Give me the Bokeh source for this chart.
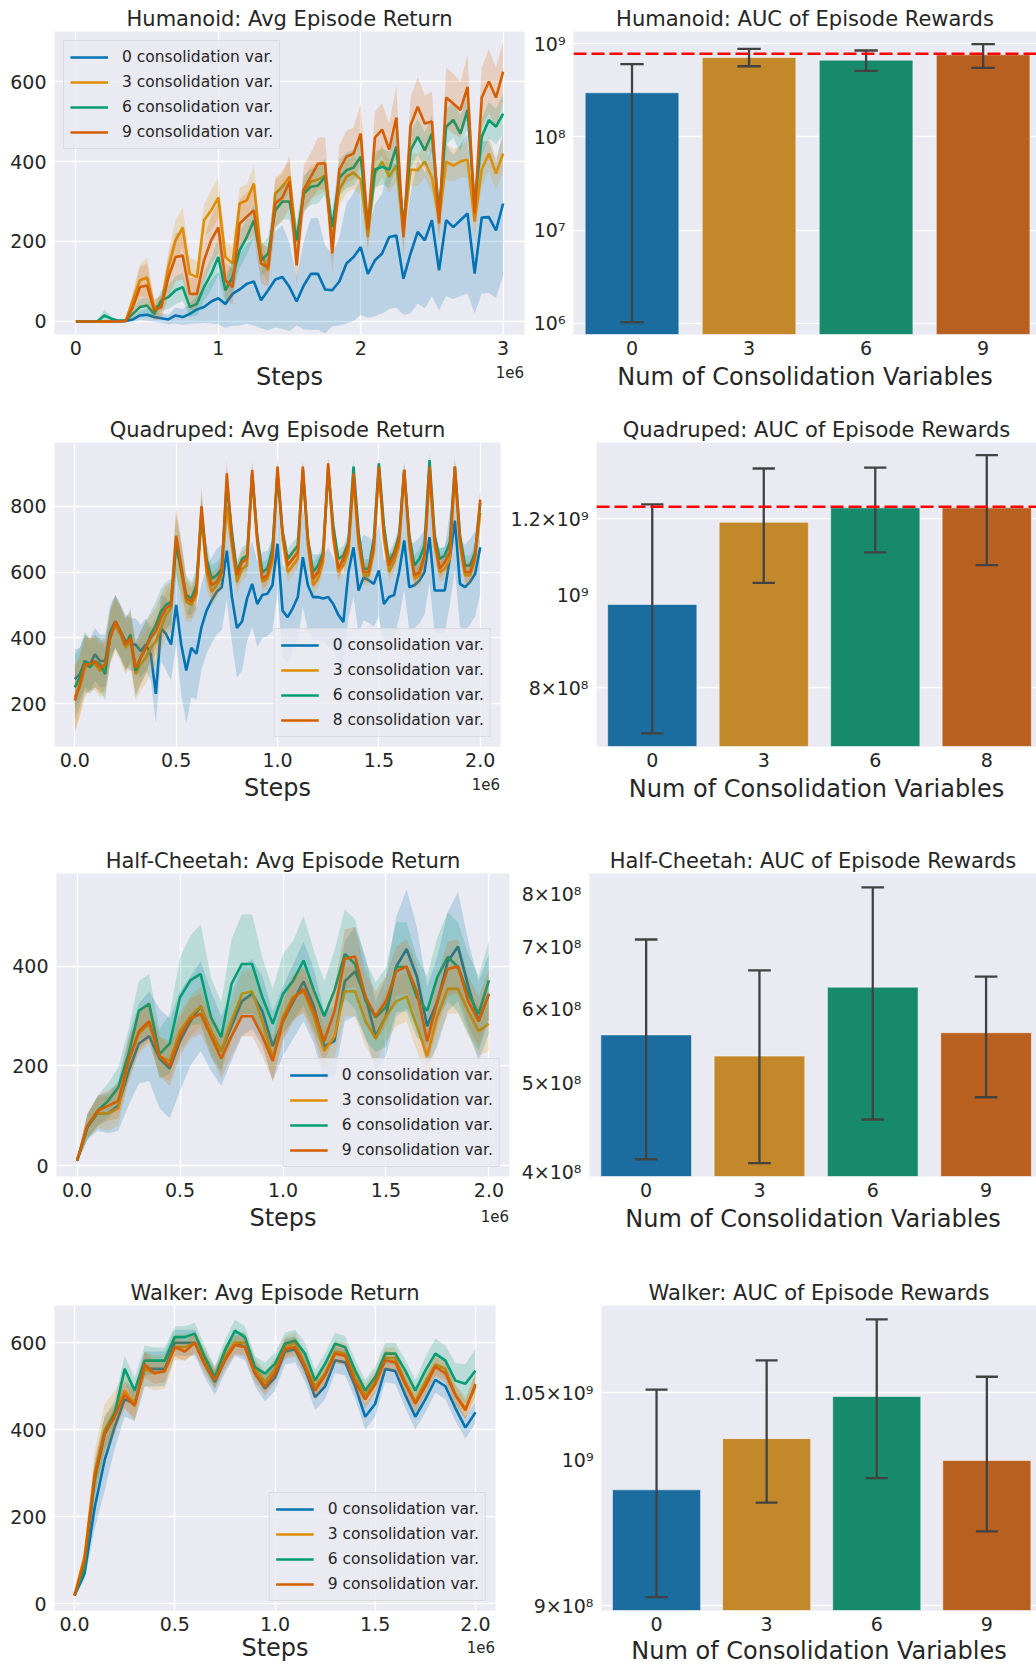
import numpy as np
from bokeh.plotting import figure
from bokeh.models import Range1d, FixedTicker, Span, LinearAxis
from bokeh.layouts import column, row
from bokeh.embed import file_html
from bokeh.resources import INLINE

FONT = "DejaVu Sans"
INK = "#262626"
PANEL_BG = "#eaeaf2"
LINE_COLORS = ["#0173b2", "#de8f05", "#029e73", "#d55e00"]
BAR_COLORS = ["#1a6d9e", "#c3882a", "#168a6b", "#b8601f"]
ERR_COLOR = "#424242"

# ------------------------------------------------------------------ data
# Humanoid (x: 0 .. 3.0e6, step 0.05e6)
humanoid_steps = np.linspace(0, 3.0e6, 61)
humanoid_labels = ["0 consolidation var.", "3 consolidation var.", "6 consolidation var.", "9 consolidation var."]
humanoid_v0 = [0, 0, 0, 0, 0, 0, 0, 1, 5, 15,
               17, 11, 8, 5, 15, 11, 19, 30, 36, 50,
               58, 44, 69, 80, 94, 100, 53, 78, 105, 111,
               86, 50, 90, 119, 119, 80, 78, 100, 145, 161,
               186, 119, 153, 170, 211, 215, 107, 170, 224, 203,
               253, 128, 253, 236, 253, 270, 120, 260, 261, 228,
               295]
humanoid_h0 = [0, 0, 0, 0, 0, 0, 0, 1, 5, 12,
               15, 12, 12, 12, 20, 20, 25, 35, 40, 55,
               65, 60, 80, 90, 100, 110, 70, 100, 120, 130,
               110, 60, 110, 140, 140, 110, 90, 110, 150, 160,
               170, 110, 140, 150, 180, 180, 90, 150, 180, 170,
               190, 100, 190, 180, 190, 200, 100, 190, 190, 170,
               180]
humanoid_v3 = [0, 0, 0, 0, 0, 1, 1, 2, 53, 103,
               110, 36, 40, 136, 203, 235, 119, 111, 253, 278,
               310, 161, 145, 295, 303, 345, 170, 128, 320, 337,
               362, 200, 320, 350, 355, 365, 200, 330, 362, 372,
               355, 211, 370, 400, 362, 390, 220, 380, 378, 400,
               360, 253, 400, 390, 400, 405, 250, 380, 420, 370,
               420]
humanoid_h3 = [0, 0, 0, 0, 0, 1, 1, 2, 20, 40,
               50, 20, 25, 40, 50, 50, 40, 40, 40, 50,
               50, 40, 40, 40, 40, 45, 40, 35, 40, 40,
               40, 35, 40, 40, 40, 40, 35, 40, 40, 40,
               40, 35, 40, 40, 40, 40, 35, 40, 40, 40,
               40, 35, 45, 40, 40, 45, 35, 40, 45, 40,
               45]
humanoid_v6 = [0, 0, 0, 0, 15, 7, 2, 2, 19, 36,
               40, 19, 53, 61, 78, 86, 36, 44, 86, 119,
               161, 78, 111, 178, 211, 253, 153, 170, 278, 300,
               300, 203, 320, 337, 340, 362, 236, 360, 378, 385,
               412, 236, 380, 387, 380, 437, 236, 428, 462, 428,
               470, 270, 487, 504, 470, 529, 290, 462, 504, 487,
               520]
humanoid_h6 = [0, 0, 0, 0, 15, 5, 1, 1, 10, 20,
               20, 15, 25, 30, 35, 35, 25, 30, 35, 40,
               45, 35, 40, 45, 45, 45, 40, 40, 45, 45,
               45, 40, 45, 45, 45, 45, 40, 45, 45, 45,
               45, 40, 45, 45, 45, 45, 40, 45, 45, 45,
               45, 40, 45, 45, 45, 45, 40, 45, 45, 45,
               50]
humanoid_v9 = [0, 0, 0, 0, 0, 0, 0, 1, 36, 86,
               90, 28, 36, 111, 161, 165, 69, 69, 153, 203,
               235, 103, 86, 245, 262, 278, 145, 136, 295, 310,
               350, 140, 330, 362, 395, 395, 170, 380, 412, 420,
               470, 230, 460, 480, 430, 510, 211, 490, 537, 495,
               500, 245, 560, 545, 529, 587, 270, 560, 600, 560,
               625]
humanoid_h9 = [0, 0, 0, 0, 0, 0, 0, 1, 30, 50,
               55, 25, 30, 50, 60, 60, 40, 40, 55, 60,
               65, 45, 45, 60, 60, 65, 50, 50, 60, 60,
               65, 50, 60, 60, 65, 65, 50, 60, 65, 65,
               75, 50, 65, 65, 65, 80, 50, 70, 75, 70,
               75, 50, 75, 75, 70, 80, 55, 75, 80, 75,
               75]

# Quadruped (x: 0 .. 2.0e6, step 0.025e6)
quadruped_steps = np.linspace(0, 2.0e6, 81)
quadruped_labels = ["0 consolidation var.", "3 consolidation var.", "6 consolidation var.", "8 consolidation var."]
quadruped_v0 = [275, 290, 330, 320, 350, 330, 330, 420, 450, 420,
                390, 380, 380, 360, 380, 350, 230, 430, 412, 380,
                500, 380, 301, 370, 352, 433, 483, 514, 540, 554,
                665, 524, 430, 450, 520, 564, 503, 530, 534, 560,
                686, 483, 463, 490, 524, 645, 560, 524, 524, 520,
                524, 503, 470, 448, 600, 675, 544, 584, 575, 564,
                605, 503, 524, 530, 600, 696, 554, 560, 574, 600,
                706, 544, 544, 544, 640, 756, 564, 554, 570, 595,
                675]
quadruped_h0 = [90, 80, 80, 80, 80, 80, 80, 80, 80, 80,
                80, 80, 80, 80, 80, 80, 90, 100, 110, 110,
                120, 150, 160, 150, 140, 130, 130, 130, 130, 130,
                150, 140, 150, 150, 130, 130, 130, 130, 130, 140,
                150, 140, 140, 130, 130, 150, 140, 130, 130, 130,
                150, 140, 140, 140, 140, 150, 130, 130, 130, 130,
                140, 130, 130, 130, 140, 150, 130, 130, 130, 130,
                140, 130, 130, 130, 140, 150, 130, 130, 130, 130,
                140]
quadruped_v3 = [220, 250, 310, 320, 320, 300, 310, 400, 440, 410,
                370, 390, 290, 320, 340, 370, 390, 430, 470, 490,
                690, 600, 510, 500, 530, 770, 600, 540, 560, 590,
                800, 680, 570, 610, 620, 890, 690, 570, 580, 630,
                900, 700, 600, 620, 640, 900, 680, 560, 580, 630,
                920, 700, 600, 620, 660, 880, 680, 590, 590, 660,
                910, 700, 600, 630, 680, 900, 680, 580, 590, 640,
                900, 680, 600, 610, 640, 900, 680, 590, 590, 640,
                780]
quadruped_v6 = [250, 280, 330, 310, 330, 320, 290, 410, 450, 420,
                380, 410, 300, 340, 370, 410, 440, 480, 500, 510,
                680, 610, 530, 520, 560, 780, 640, 580, 590, 610,
                870, 720, 600, 640, 650, 900, 710, 600, 610, 670,
                900, 720, 640, 660, 680, 910, 700, 600, 620, 660,
                910, 740, 640, 650, 690, 920, 720, 610, 610, 700,
                930, 740, 630, 660, 710, 910, 710, 620, 640, 680,
                940, 710, 640, 650, 690, 920, 710, 620, 620, 660,
                810]
quadruped_v8 = [210, 260, 320, 320, 330, 310, 320, 400, 450, 420,
                380, 400, 310, 340, 370, 400, 420, 460, 490, 500,
                710, 620, 520, 510, 540, 800, 620, 560, 570, 600,
                900, 700, 590, 630, 640, 910, 700, 580, 590, 650,
                920, 720, 620, 640, 660, 920, 700, 580, 600, 650,
                930, 720, 610, 640, 680, 900, 700, 600, 600, 680,
                920, 720, 620, 650, 700, 910, 700, 590, 600, 650,
                920, 700, 610, 630, 660, 920, 700, 600, 600, 650,
                820]
quadruped_h_rest = [100, 90, 90, 80, 80, 80, 80, 80, 80, 80,
                    80, 80, 80, 80, 80, 70, 70, 70, 70, 70,
                    90, 80, 60, 50, 50, 60, 50, 40, 40, 40,
                    40, 40, 35, 35, 35, 30, 35, 30, 30, 30,
                    30, 30, 30, 30, 30, 25, 30, 30, 30, 30,
                    25, 30, 30, 30, 30, 25, 30, 30, 30, 30,
                    25, 30, 30, 30, 30, 25, 30, 30, 30, 30,
                    25, 30, 30, 30, 30, 25, 30, 30, 30, 30,
                    35]

# Half-Cheetah (x: 0 .. 2.0e6, step 0.05e6)
cheetah_steps = np.linspace(0, 2.0e6, 41)
cheetah_labels = humanoid_labels
cheetah_v0 = [10, 77, 105, 105, 120, 190, 245, 260, 215, 195,
              250, 290, 320, 270, 230, 280, 330, 345, 310, 240,
              290, 330, 370, 320, 240, 250, 370, 390, 340, 260,
              300, 400, 435, 380, 280, 330, 410, 440, 360, 290,
              345]
cheetah_h0 = [5, 25, 35, 40, 50, 70, 80, 90, 100, 100,
              100, 90, 90, 80, 70, 70, 70, 70, 70, 70,
              70, 75, 80, 75, 70, 70, 80, 90, 80, 70,
              80, 100, 120, 100, 80, 90, 100, 110, 90, 80,
              80]
cheetah_v3 = [10, 80, 105, 105, 115, 210, 265, 285, 220, 210,
              270, 300, 320, 270, 230, 290, 345, 350, 290, 215,
              300, 340, 350, 300, 230, 260, 350, 350, 290, 255,
              300, 330, 340, 280, 220, 300, 355, 355, 310, 270,
              285]
cheetah_h3 = [5, 25, 30, 35, 35, 40, 40, 40, 40, 40,
              40, 40, 40, 40, 40, 40, 45, 45, 45, 45,
              45, 45, 45, 45, 45, 45, 50, 50, 50, 50,
              50, 50, 50, 50, 50, 50, 50, 50, 50, 50,
              55]
cheetah_v6 = [10, 77, 110, 130, 157, 224, 311, 325, 224, 245,
              338, 372, 385, 298, 258, 365, 405, 405, 338, 285,
              345, 372, 412, 352, 300, 352, 425, 405, 332, 298,
              318, 399, 399, 338, 311, 379, 419, 399, 345, 305,
              372]
cheetah_h6 = [5, 25, 30, 35, 40, 50, 60, 60, 50, 60,
              80, 90, 100, 80, 70, 90, 100, 100, 80, 70,
              80, 80, 90, 80, 70, 80, 90, 90, 80, 70,
              80, 90, 90, 80, 70, 80, 90, 90, 80, 75,
              80]
cheetah_v9 = [10, 80, 110, 120, 130, 210, 270, 290, 220, 200,
              260, 295, 305, 260, 215, 260, 300, 300, 260, 210,
              290, 335, 355, 310, 250, 310, 415, 420, 340, 300,
              330, 390, 400, 350, 250, 330, 395, 400, 330, 290,
              345]
cheetah_h9 = [5, 25, 30, 30, 35, 40, 40, 40, 40, 40,
              40, 40, 40, 40, 40, 40, 40, 40, 40, 40,
              40, 45, 45, 45, 45, 50, 60, 60, 50, 50,
              50, 50, 55, 55, 50, 50, 55, 55, 50, 50,
              50]

# Walker (x: 0 .. 2.0e6, step 0.05e6)
walker_steps = np.linspace(0, 2.0e6, 41)
walker_labels = humanoid_labels
walker_v0 = [19, 70, 220, 330, 406, 470, 460, 540, 540, 540,
             600, 600, 600, 550, 510, 560, 600, 590, 530, 495,
             520, 580, 585, 540, 475, 500, 560, 555, 500, 430,
             460, 540, 535, 480, 430, 470, 515, 500, 450, 405,
             440]
walker_h0 = [3, 15, 50, 70, 50, 40, 40, 40, 40, 40,
             30, 30, 30, 30, 30, 30, 30, 30, 30, 30,
             30, 30, 30, 30, 30, 30, 30, 30, 30, 30,
             30, 30, 30, 30, 30, 30, 30, 30, 30, 25,
             25]
walker_v3 = [19, 110, 300, 400, 440, 490, 460, 540, 530, 535,
             590, 590, 600, 560, 520, 570, 600, 600, 540, 510,
             540, 590, 600, 550, 500, 530, 580, 575, 520, 480,
             510, 565, 565, 510, 465, 510, 550, 540, 480, 450,
             500]
walker_h3 = [3, 20, 50, 60, 50, 40, 40, 40, 40, 40,
             30, 30, 25, 25, 25, 25, 25, 25, 25, 25,
             25, 25, 25, 25, 25, 25, 25, 25, 25, 25,
             25, 25, 25, 25, 25, 25, 25, 25, 25, 25,
             30]
walker_v6 = [19, 84, 283, 391, 437, 540, 490, 559, 559, 559,
             613, 613, 621, 567, 521, 582, 628, 613, 544, 529,
             552, 598, 605, 575, 513, 552, 598, 590, 536, 490,
             521, 575, 575, 536, 490, 536, 575, 559, 513, 506,
             536]
walker_h6 = [3, 20, 40, 40, 30, 30, 30, 35, 30, 30,
             25, 25, 25, 25, 25, 25, 25, 25, 25, 25,
             25, 25, 25, 25, 25, 25, 25, 25, 25, 25,
             25, 25, 25, 25, 25, 30, 35, 35, 40, 45,
             50]
walker_v9 = [19, 100, 290, 390, 430, 480, 455, 550, 530, 535,
             590, 580, 600, 550, 515, 560, 595, 590, 530, 500,
             530, 585, 590, 545, 490, 525, 575, 570, 510, 470,
             505, 560, 555, 505, 460, 500, 545, 530, 480, 445,
             505]
walker_h9 = [3, 20, 40, 40, 30, 30, 30, 30, 25, 25,
             22, 22, 22, 22, 22, 22, 22, 22, 22, 22,
             22, 22, 22, 22, 22, 22, 22, 22, 22, 22,
             22, 22, 22, 22, 22, 22, 22, 22, 22, 22,
             25]

# AUC bars
humanoid_cats = ["0", "3", "6", "9"]
humanoid_auc = [2.98e8, 7.13e8, 6.67e8, 7.62e8]
humanoid_auc_lo = [1.03e6, 5.74e8, 5.13e8, 5.52e8]
humanoid_auc_hi = [6.04e8, 8.84e8, 8.47e8, 9.9e8]
humanoid_auc_ref = 7.82e8

quadruped_cats = ["0", "3", "6", "8"]
quadruped_auc = [9.77e8, 1.19e9, 1.232e9, 1.232e9]
quadruped_auc_lo = [7.17e8, 1.029e9, 1.107e9, 1.074e9]
quadruped_auc_hi = [1.242e9, 1.354e9, 1.357e9, 1.398e9]
quadruped_auc_ref = 1.235e9

cheetah_cats = ["0", "3", "6", "9"]
cheetah_auc = [5.63e8, 5.34e8, 6.34e8, 5.66e8]
cheetah_auc_lo = [4.13e8, 4.09e8, 4.56e8, 4.82e8]
cheetah_auc_hi = [7.14e8, 6.61e8, 8.13e8, 6.51e8]

walker_cats = ["0", "3", "6", "9"]
walker_auc = [9.787e8, 1.0157e9, 1.0472e9, 9.997e8]
walker_auc_lo = [9.055e8, 9.697e8, 9.871e8, 9.497e8]
walker_auc_hi = [1.0525e9, 1.0749e9, 1.1074e9, 1.0623e9]


# ------------------------------------------------------------------ helpers
def style_axis(ax, label_gap):
    ax.axis_line_color = None
    ax.major_tick_line_color = None
    ax.minor_tick_line_color = None
    ax.major_tick_in = 0
    ax.major_tick_out = 0
    ax.minor_tick_in = 0
    ax.minor_tick_out = 0
    ax.major_label_text_font = FONT
    ax.major_label_text_font_size = "19px"
    ax.major_label_text_color = INK
    ax.axis_label_text_font = FONT
    ax.axis_label_text_font_size = "24px"
    ax.axis_label_text_font_style = "normal"
    ax.axis_label_text_color = INK
    ax.major_label_standoff = 6
    ax.axis_label_standoff = label_gap


def base_fig(title, width, height, left, right, top, bottom, xr, yr, log=False, label_gap=5):
    p = figure(width=width, height=height, x_range=Range1d(*xr), y_range=Range1d(*yr),
               y_axis_type="log" if log else "linear",
               output_backend="svg", toolbar_location=None,
               min_border_left=left, min_border_right=right,
               min_border_top=top, min_border_bottom=bottom, title=title)
    p.background_fill_color = PANEL_BG
    p.border_fill_color = "white"
    p.outline_line_color = None
    p.title.text_font = FONT
    p.title.text_font_size = "21px"
    p.title.text_font_style = "normal"
    p.title.text_color = INK
    p.title.align = "center"
    p.title.standoff = 2
    style_axis(p.xaxis[0], label_gap)
    style_axis(p.yaxis[0], label_gap)
    p.yaxis[0].major_label_standoff = 8
    p.xgrid.grid_line_color = "white"
    p.ygrid.grid_line_color = "white"
    p.xgrid.grid_line_width = 1.4
    p.ygrid.grid_line_width = 1.4
    return p


def line_panel(title, steps, values, halves, labels, box, xr, yr,
               xticks, xlabels, yticks, legend_loc, off_gap=8, label_gap=-18):
    width, height, left, right, top, bottom = box
    p = base_fig(title, width, height, left, right, top, bottom, xr, yr)
    p.xaxis.ticker = FixedTicker(ticks=xticks)
    p.xgrid.ticker = FixedTicker(ticks=xticks)
    p.xaxis.major_label_overrides = dict(zip(xticks, xlabels))
    p.yaxis.ticker = FixedTicker(ticks=yticks)
    p.ygrid.ticker = FixedTicker(ticks=yticks)
    p.yaxis.major_label_overrides = {t: str(t) for t in yticks}

    # second bottom axis: carries the "1e6" offset text (right) and the "Steps" label
    frame_w = width - left - right
    off_pos = xr[1] - 14.5 * (xr[1] - xr[0]) / frame_w
    ax2 = LinearAxis(ticker=FixedTicker(ticks=[off_pos]),
                     major_label_overrides={off_pos: "1e6"})
    style_axis(ax2, label_gap)
    ax2.major_label_text_font_size = "15px"
    ax2.major_label_standoff = off_gap
    ax2.axis_label = "Steps"
    p.add_layout(ax2, "below")

    for v, h, c, lab in zip(values, halves, LINE_COLORS, labels):
        v = np.asarray(v, dtype=float)
        h = np.asarray(h, dtype=float)
        p.varea(x=steps, y1=v - h, y2=v + h, fill_color=c, fill_alpha=0.2)
        p.line(x=steps, y=v, line_color=c, line_width=2.6, legend_label=lab)
    lg = p.legend[0]
    lg.location = legend_loc
    lg.margin = 9
    lg.padding = 6
    lg.spacing = 5
    lg.glyph_width = 38
    lg.glyph_height = 20
    lg.label_height = 20
    lg.label_standoff = 14
    lg.label_text_font = FONT
    lg.label_text_font_size = "15.5px"
    lg.label_text_color = INK
    lg.background_fill_color = PANEL_BG
    lg.background_fill_alpha = 0.8
    lg.border_line_color = "#cccccc"
    lg.border_line_width = 1
    return p


def bar_panel(title, cats, vals, lo, hi, ref, box, x_end, yr, yticks, ylabels, gridticks, label_gap=5):
    width, height, left, right, top, bottom = box
    p = base_fig(title, width, height, left, right, top, bottom, (-0.5, x_end), yr, log=True,
                 label_gap=label_gap)
    idx = np.arange(len(cats), dtype=float)
    p.vbar(x=idx, top=vals, bottom=yr[0] * 0.5, width=0.8, fill_color=BAR_COLORS,
           line_color="white", line_width=1, line_alpha=0.5)
    p.segment(x0=idx, y0=lo, x1=idx, y1=hi, line_color=ERR_COLOR, line_width=2.3)
    p.segment(x0=idx - 0.1, y0=hi, x1=idx + 0.1, y1=hi, line_color=ERR_COLOR, line_width=2.3)
    p.segment(x0=idx - 0.1, y0=lo, x1=idx + 0.1, y1=lo, line_color=ERR_COLOR, line_width=2.3)
    if ref is not None:
        p.add_layout(Span(location=ref, dimension="width", line_color="red",
                          line_dash="13 5", line_width=2.6))
    p.xaxis.ticker = FixedTicker(ticks=list(range(len(cats))))
    p.xaxis.major_label_overrides = {i: c for i, c in enumerate(cats)}
    p.xgrid.visible = False
    p.yaxis.ticker = FixedTicker(ticks=yticks)
    p.yaxis.major_label_overrides = dict(zip(yticks, ylabels))
    if gridticks:
        p.ygrid.ticker = FixedTicker(ticks=gridticks)
    else:
        p.ygrid.visible = False
    p.xaxis.axis_label = "Num of Consolidation Variables"
    return p


# ------------------------------------------------------------------ panels
ht = ["0", "1", "2", "3"]
st = ["0.0", "0.5", "1.0", "1.5", "2.0"]
t3 = [0, 1e6, 2e6, 3e6]
t2 = [0, 5e5, 1e6, 1.5e6, 2e6]

h_line = line_panel("Humanoid: Avg Episode Return", humanoid_steps,
                    [humanoid_v0, humanoid_v3, humanoid_v6, humanoid_v9],
                    [humanoid_h0, humanoid_h3, humanoid_h6, humanoid_h9], humanoid_labels,
                    (530, 400, 54, 6, 31, 66), (-0.15e6, 3.15e6), (-32.6, 725.2),
                    t3, ht, [0, 200, 400, 600], "top_left", off_gap=8, label_gap=-18)
h_bar = bar_panel("Humanoid: AUC of Episode Rewards", humanoid_cats, humanoid_auc,
                  humanoid_auc_lo, humanoid_auc_hi, humanoid_auc_ref,
                  (506, 400, 42, 0, 31, 66), 3.456, (10 ** 5.879, 10 ** 9.132),
                  [1e6, 1e7, 1e8, 1e9], ["10⁶", "10⁷", "10⁸", "10⁹"], [1e6, 1e7, 1e8, 1e9])

q_line = line_panel("Quadruped: Avg Episode Return", quadruped_steps,
                    [quadruped_v0, quadruped_v3, quadruped_v6, quadruped_v8],
                    [quadruped_h0, quadruped_h_rest, quadruped_h_rest, quadruped_h_rest], quadruped_labels,
                    (505, 430, 54, 5, 42, 84), (-0.1e6, 2.1e6), (70.3, 993.4),
                    t2, st, [200, 400, 600, 800], "bottom_right", off_gap=8, label_gap=-19)
q_bar = bar_panel("Quadruped: AUC of Episode Rewards", quadruped_cats, quadruped_auc,
                  quadruped_auc_lo, quadruped_auc_hi, quadruped_auc_ref,
                  (531, 430, 91, 0, 42, 84), 3.446, (10 ** 8.8419, 10 ** 9.1587),
                  [8e8, 1e9, 1.2e9], ["8×10⁸", "10⁹", "1.2×10⁹"], [8e8, 1.2e9])

c_line = line_panel("Half-Cheetah: Avg Episode Return", cheetah_steps,
                    [cheetah_v0, cheetah_v3, cheetah_v6, cheetah_v9],
                    [cheetah_h0, cheetah_h3, cheetah_h6, cheetah_h9], cheetah_labels,
                    (515, 430, 56, 6, 43, 84), (-0.1e6, 2.1e6), (-22.1, 586.9),
                    t2, st, [0, 200, 400], "bottom_right", off_gap=10, label_gap=-21)
c_bar = bar_panel("Half-Cheetah: AUC of Episode Rewards", cheetah_cats, cheetah_auc,
                  cheetah_auc_lo, cheetah_auc_hi, None,
                  (521, 430, 74, 0, 43, 84), 3.445, (10 ** 8.5973, 10 ** 8.9251),
                  [4e8, 5e8, 6e8, 7e8, 8e8], ["4×10⁸", "5×10⁸", "6×10⁸", "7×10⁸", "8×10⁸"], None)

w_line = line_panel("Walker: Avg Episode Return", walker_steps,
                    [walker_v0, walker_v3, walker_v6, walker_v9],
                    [walker_h0, walker_h3, walker_h6, walker_h9], walker_labels,
                    (500, 408, 54, 5, 45, 58), (-0.1e6, 2.1e6), (-15.4, 685.7),
                    t2, st, [0, 200, 400, 600], "bottom_right", off_gap=7, label_gap=-22)
w_bar = bar_panel("Walker: AUC of Episode Rewards", walker_cats, walker_auc,
                  walker_auc_lo, walker_auc_hi, None,
                  (536, 408, 101, 0, 45, 58), 3.451, (10 ** 8.95267, 10 ** 9.04867),
                  [9e8, 1e9, 1.05e9], ["9×10⁸", "10⁹", "1.05×10⁹"], [9e8, 1.05e9], label_gap=3)

layout = column(row(h_line, h_bar), row(q_line, q_bar), row(c_line, c_bar), row(w_line, w_bar))

open("out.html", "w").write(file_html(layout, INLINE))
